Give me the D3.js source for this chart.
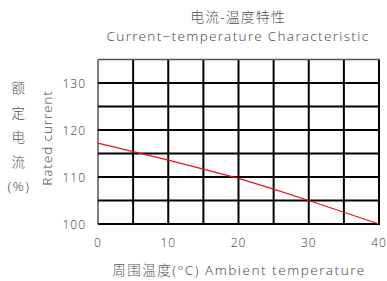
<!DOCTYPE html>
<html>
<head>
<meta charset="utf-8">
<script src="https://cdn.jsdelivr.net/npm/d3@7"></script>
<style>
body { margin: 0; background: #fff; }
text { font-family: "Noto Sans", "Noto Sans CJK SC", sans-serif; fill: #555; font-weight: 300; }
</style>
</head>
<body>
<script>
// temperature (°C) vs rated current (%)
temps = [0, 5, 10, 15, 20, 25, 30, 35, 40]
current = [117.2, 115.4, 113.6, 111.7, 109.7, 107.4, 105.0, 102.5, 100.0]
xTicks = [0, 10, 20, 30, 40]
yTicks = [100, 110, 120, 130]
xGrid = [0, 5, 10, 15, 20, 25, 30, 35, 40]
yGrid = [100, 105, 110, 115, 120, 125, 130, 135]
yTitleCN = ["额", "定", "电", "流", "(%)"]

w = 387
h = 281
pLeft = 98
pRight = 379
pTop = 59.5
pBottom = 224

svg = d3.select("body").append("svg")
        .attr("width", w)
        .attr("height", h)

x = d3.scaleLinear().domain([0, 40]).range([pLeft, pRight])
y = d3.scaleLinear().domain([100, 135]).range([pBottom, pTop])

grid = svg.append("g").attr("class", "grid")

grid.selectAll("line.v").data(xGrid)
        .enter().append("line")
        .attr("class", "v")
        .attr("x1", function(d) { return x(d) })
        .attr("x2", function(d) { return x(d) })
        .attr("y1", pTop)
        .attr("y2", pBottom)
        .attr("stroke", function(d) { return d == 0 ? "#555" : "#000" })
        .attr("stroke-width", function(d) { return d == 0 ? 1.5 : 2 })

grid.selectAll("line.h").data(yGrid)
        .enter().append("line")
        .attr("class", "h")
        .attr("y1", function(d) { return y(d) })
        .attr("y2", function(d) { return y(d) })
        .attr("x1", pLeft)
        .attr("x2", pRight + 1)
        .attr("stroke", function(d) { return d == 135 ? "#555" : "#000" })
        .attr("stroke-width", function(d) { return d == 135 ? 1.5 : 2 })

curve = d3.line()
        .x(function(d, i) { return x(temps[i]) })
        .y(function(d) { return y(d) })

svg.append("path")
        .datum(current)
        .attr("d", curve)
        .attr("fill", "none")
        .attr("stroke", "#e8141c")
        .attr("stroke-width", 1.3)

// tick labels
svg.append("g").selectAll("text").data(xTicks)
        .enter().append("text")
        .attr("x", function(d) { return x(d) })
        .attr("y", 247)
        .attr("text-anchor", "middle")
        .style("font-size", "12px")
        .style("letter-spacing", "1px")
        .text(function(d) { return d })

svg.append("g").selectAll("text").data(yTicks)
        .enter().append("text")
        .attr("x", 86)
        .attr("y", function(d) { return y(d) + 4.5 })
        .attr("text-anchor", "end")
        .style("font-size", "12px")
        .style("letter-spacing", "1px")
        .text(function(d) { return d })

// titles
svg.append("text")
        .attr("x", 238).attr("y", 22)
        .attr("text-anchor", "middle")
        .style("font-size", "14px")
        .style("letter-spacing", "1px")
        .text("电流-温度特性")

svg.append("text")
        .attr("x", 238).attr("y", 41)
        .attr("text-anchor", "middle")
        .style("font-size", "13.5px")
        .style("letter-spacing", "1.3px")
        .text("Current−temperature Characteristic")

svg.append("text")
        .attr("x", 239).attr("y", 275)
        .attr("text-anchor", "middle")
        .style("font-size", "13.5px")
        .style("letter-spacing", "1.5px")
        .text("周围温度(°C)  Ambient temperature")

svg.append("g").selectAll("text").data(yTitleCN)
        .enter().append("text")
        .attr("x", 19)
        .attr("y", function(d, i) { return 93 + i * 24.5 })
        .attr("text-anchor", "middle")
        .style("font-size", "13.5px")
        .style("letter-spacing", "1.5px")
        .text(function(d) { return d })

svg.append("text")
        .attr("transform", "translate(52,138) rotate(-90)")
        .attr("text-anchor", "middle")
        .style("font-size", "13.5px")
        .style("letter-spacing", "0.9px")
        .text("Rated current")
</script>
</body>
</html>
